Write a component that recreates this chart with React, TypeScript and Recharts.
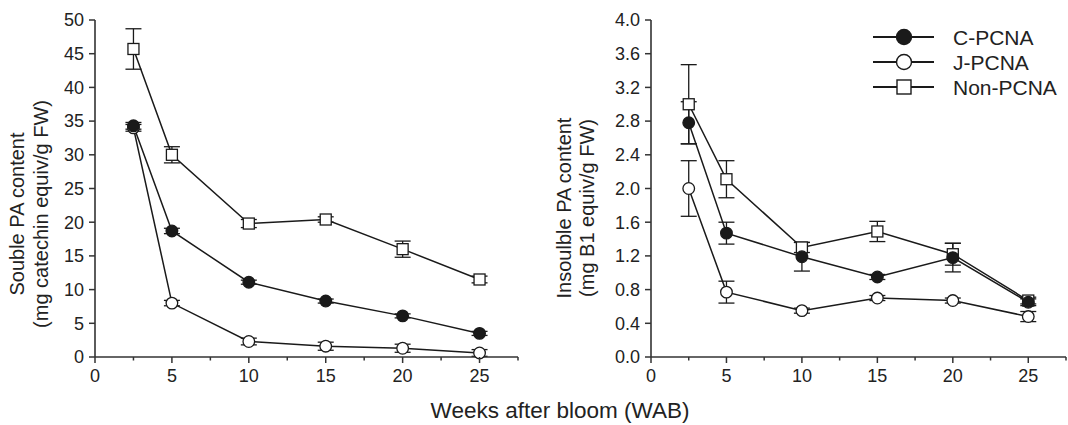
import { LineChart, Line, XAxis, YAxis, ErrorBar } from 'recharts';

const weeks = [2.5, 5, 10, 15, 20, 25];

const solubleC = [34.3, 18.7, 11.1, 8.3, 6.1, 3.5];
const solubleCErr = [0.5, 0.4, 0.3, 0.3, 0.3, 0.3];
const solubleJ = [34.0, 8.0, 2.3, 1.6, 1.3, 0.6];
const solubleJErr = [0.5, 0.4, 0.5, 0.6, 0.6, 0.5];
const solubleN = [45.7, 30.0, 19.8, 20.4, 16.0, 11.5];
const solubleNErr = [3.0, 1.2, 0.6, 0.4, 1.2, 0.5];

const insolC = [2.78, 1.47, 1.19, 0.95, 1.18, 0.65];
const insolCErr = [0.25, 0.13, 0.17, 0.03, 0.17, 0.04];
const insolJ = [2.0, 0.77, 0.55, 0.7, 0.67, 0.48];
const insolJErr = [0.33, 0.13, 0.03, 0.03, 0.03, 0.06];
const insolN = [3.0, 2.11, 1.3, 1.49, 1.22, 0.67];
const insolNErr = [0.47, 0.22, 0.06, 0.12, 0.13, 0.04];

const xTicks = [0, 2.5, 5, 7.5, 10, 12.5, 15, 17.5, 20, 22.5, 25, 27.5];
const solubleTicks = [0, 5, 10, 15, 20, 25, 30, 35, 40, 45, 50];
const insolTicks = [0, 0.4, 0.8, 1.2, 1.6, 2.0, 2.4, 2.8, 3.2, 3.6, 4.0];

const legendNames = ['C-PCNA', 'J-PCNA', 'Non-PCNA'];

const build = (c: number[], ce: number[], j: number[], je: number[], n: number[], ne: number[]) =>
  weeks.map((w, i) => ({ week: w, c: c[i], cErr: ce[i], j: j[i], jErr: je[i], n: n[i], nErr: ne[i] }));

const solubleData = build(solubleC, solubleCErr, solubleJ, solubleJErr, solubleN, solubleNErr);
const insolData = build(insolC, insolCErr, insolJ, insolJErr, insolN, insolNErr);

const INK = '#1a1a1a';
const AXIS = '#333';
const FONT = 'Arial, "Liberation Sans", Helvetica, sans-serif';

const circleDot = (filled: boolean) => (props: any) => (
  <circle
    key={`${props.dataKey}-${props.index}`}
    cx={props.cx}
    cy={props.cy}
    r={5.8}
    fill={filled ? INK : '#fff'}
    stroke={INK}
    strokeWidth={1.3}
  />
);

const squareDot = (props: any) => (
  <rect
    key={`${props.dataKey}-${props.index}`}
    x={props.cx - 5.5}
    y={props.cy - 5.5}
    width={11}
    height={11}
    fill="#fff"
    stroke={INK}
    strokeWidth={1.3}
  />
);

const XTick = (props: any) => {
  const { x, y, payload } = props;
  const major = payload.value % 5 === 0;
  return (
    <g>
      <line x1={x} x2={x} y1={y} y2={y + (major ? 6 : 3.5)} stroke={AXIS} strokeWidth={1.5} />
      {major && (
        <text x={x} y={y + 25} textAnchor="middle" fontSize={18} fill="#222" fontFamily={FONT}>
          {payload.value}
        </text>
      )}
    </g>
  );
};

const YLabel = ({ lines, x1, x2, cy }: { lines: string[]; x1: number; x2: number; cy: number }) => (
  <g fontFamily={FONT} fontSize={20} fill="#222">
    <text transform={`translate(${x1},${cy}) rotate(-90)`} textAnchor="middle" dominantBaseline="central">
      {lines[0]}
    </text>
    <text transform={`translate(${x2},${cy}) rotate(-90)`} textAnchor="middle" dominantBaseline="central">
      {lines[1]}
    </text>
  </g>
);

interface PanelProps {
  data: typeof solubleData;
  ticks: number[];
  domainMax: number;
  yWidth: number;
  width: number;
  fmt: (v: number) => string;
}

const Panel = ({ data, ticks, domainMax, yWidth, width, fmt }: PanelProps) => (
  <LineChart width={width} height={400} data={data} margin={{ top: 20, right: 2, left: 0, bottom: 0 }}>
    <XAxis
      dataKey="week"
      type="number"
      domain={[0, 27.5]}
      ticks={xTicks}
      interval={0}
      height={43}
      tickSize={0}
      tickMargin={0}
      tickLine={false}
      tick={<XTick />}
      axisLine={{ stroke: AXIS, strokeWidth: 1.6 }}
    />
    <YAxis
      type="number"
      domain={[0, domainMax]}
      ticks={ticks}
      interval={0}
      width={yWidth}
      tickSize={6}
      tickMargin={5}
      tickFormatter={fmt}
      tick={{ fontSize: 18, fill: '#222', fontFamily: FONT }}
      tickLine={{ stroke: AXIS, strokeWidth: 1.5 }}
      axisLine={{ stroke: AXIS, strokeWidth: 1.6 }}
    />
    <Line dataKey="n" stroke={INK} strokeWidth={1.5} dot={squareDot} isAnimationActive={false}>
      <ErrorBar dataKey="nErr" direction="y" width={8} stroke={INK} strokeWidth={1.3} isAnimationActive={false} />
    </Line>
    <Line dataKey="j" stroke={INK} strokeWidth={1.5} dot={circleDot(false)} isAnimationActive={false}>
      <ErrorBar dataKey="jErr" direction="y" width={8} stroke={INK} strokeWidth={1.3} isAnimationActive={false} />
    </Line>
    <Line dataKey="c" stroke={INK} strokeWidth={1.5} dot={circleDot(true)} isAnimationActive={false}>
      <ErrorBar dataKey="cErr" direction="y" width={8} stroke={INK} strokeWidth={1.3} isAnimationActive={false} />
    </Line>
  </LineChart>
);

const LegendBox = () => (
  <svg width={208} height={110} style={{ position: 'absolute', left: 860, top: 0 }} fontFamily={FONT}>
    {legendNames.map((name, i) => {
      const y = 37 + i * 25;
      return (
        <g key={name}>
          <line x1={13} x2={74} y1={y} y2={y} stroke={INK} strokeWidth={2} />
          {i === 2 ? (
            <rect x={37} y={y - 7} width={14} height={14} fill="#fff" stroke={INK} strokeWidth={1.4} />
          ) : (
            <circle cx={44} cy={y} r={7.5} fill={i === 0 ? INK : '#fff'} stroke={INK} strokeWidth={1.4} />
          )}
          <text x={93} y={y} dominantBaseline="central" fontSize={21} fill="#222">
            {name}
          </text>
        </g>
      );
    })}
  </svg>
);

export default function App() {
  return (
    <div
      style={{
        position: 'absolute',
        left: 0,
        top: 0,
        width: 1068,
        height: 425,
        background: '#fff',
        fontFamily: FONT,
        overflow: 'hidden',
      }}
    >
      <div style={{ position: 'absolute', left: 0, top: 0 }}>
        <Panel data={solubleData} ticks={solubleTicks} domainMax={50} yWidth={95} width={520} fmt={(v) => String(v)} />
      </div>
      <div style={{ position: 'absolute', left: 520, top: 0 }}>
        <Panel data={insolData} ticks={insolTicks} domainMax={4} yWidth={131} width={548} fmt={(v) => v.toFixed(1)} />
      </div>
      <svg width={1068} height={400} style={{ position: 'absolute', left: 0, top: 0, pointerEvents: 'none' }}>
        <YLabel lines={['Souble PA content', '(mg catechin equiv/g FW)']} x1={17} x2={41} cy={214} />
        <YLabel lines={['Insoulble PA content', '(mg B1 equiv/g FW)']} x1={564} x2={587} cy={208} />
      </svg>
      <LegendBox />
      <div
        style={{
          position: 'absolute',
          left: 560,
          top: 398,
          transform: 'translateX(-50%)',
          fontSize: 22.5,
          color: '#222',
          whiteSpace: 'nowrap',
          lineHeight: '26px',
        }}
      >
        Weeks after bloom (WAB)
      </div>
    </div>
  );
}
